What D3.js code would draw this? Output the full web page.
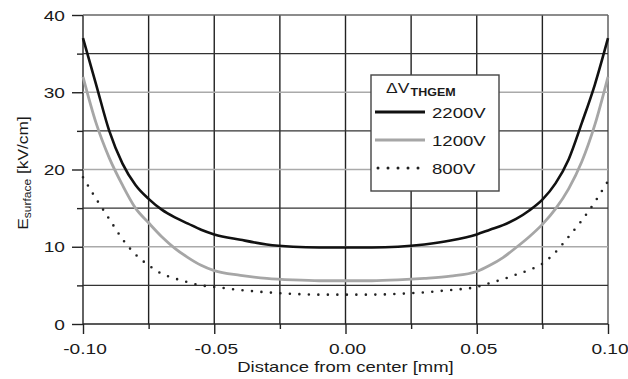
<!DOCTYPE html>
<html>
<head>
<meta charset="utf-8">
<script src="https://cdn.jsdelivr.net/npm/d3@7"></script>
<style>
  body { margin: 0; background: #fff; }
  text { font-family: "Liberation Sans", Arial, sans-serif; fill: #1a1a1a; }
</style>
</head>
<body>
<div class="chart"></div>
<script>
// data
const distance = [-0.100,-0.095,-0.090,-0.085,-0.080,-0.075,-0.070,-0.065,-0.060,-0.055,-0.050,
	-0.040,-0.030,-0.020,-0.010,0.000,0.010,0.020,0.030,0.040,
	0.050,0.055,0.060,0.065,0.070,0.075,0.080,0.085,0.090,0.095,0.100];
const e2200 = [37,31,25,20.8,18,16.2,14.8,13.8,13.0,12.2,11.6,
	10.9,10.3,10.0,9.9,9.9,9.9,10.0,10.3,10.8,
	11.6,12.2,12.8,13.6,14.7,16.1,18.2,21.3,26,31,37];
const e1200 = [32,26,21.5,18,15,13.1,11.3,9.8,8.6,7.6,6.9,
	6.3,5.9,5.7,5.6,5.6,5.6,5.7,5.9,6.2,
	6.8,7.6,8.6,9.9,11.3,12.9,14.9,17.5,21,25.8,32];
const e800 = [19,16.2,13.6,11.0,9.0,7.6,6.5,5.9,5.4,5.0,4.8,
	4.4,4.1,3.9,3.8,3.8,3.8,3.9,4.1,4.4,
	4.8,5.3,5.8,6.4,7.0,7.8,9.3,11.3,13.4,15.8,18.5];
const seriesNames = ["2200V","1200V","800V"];

const xMajor = [-0.10,-0.05,0,0.05,0.10];
const xMinor = [-0.075,-0.025,0.025,0.075];
const xTickLabels = ["-0.10","-0.05","0.00","0.05","0.10"];
const yMajor = [0,10,20,30,40];
const yMinor = [5,15,25,35];

const outWidth = 628, outHeight = 379;
const svg = d3.select('.chart').append('svg')
	.attr("width", outWidth)
	.attr("height", outHeight);

const x = d3.scaleLinear().domain([-0.1, 0.1]).range([83, 608]);
const y = d3.scaleLinear().domain([0, 40]).range([324, 15]);
const stretch = 1.32;

// grid
const grid = svg.append("g");
grid.selectAll("line.v")
	.data(xMajor.concat(xMinor))
	.enter().append("line")
	.attr("x1", d=>x(d)).attr("x2", d=>x(d))
	.attr("y1", y(40)).attr("y2", y(0))
	.attr("stroke", d=>d===0.10 ? "#555" : "#222")
	.attr("stroke-width", 1.4);
grid.selectAll("line.h")
	.data(yMajor.concat(yMinor))
	.enter().append("line")
	.attr("x1", x(-0.1)).attr("x2", x(0.1))
	.attr("y1", d=>y(d)).attr("y2", d=>y(d))
	.attr("stroke", d=>{
		if (d===0) return "#222";
		if (d===40) return "#666";
		return d%10===0 ? "#aaa" : "#333";
	})
	.attr("stroke-width", 1.4);

// axes
const yAxis = svg.append("g")
	.attr("transform", `translate(${x(-0.1)},0)`)
	.call(d3.axisLeft(y).tickValues(yMajor).tickSize(11).tickFormat(d3.format("d")));
svg.append("g")
	.attr("transform", `translate(${x(-0.1)},0)`)
	.call(d3.axisLeft(y).tickValues(yMinor).tickSize(6).tickFormat(""));
const xAxis = svg.append("g")
	.attr("transform", `translate(0,${y(0)})`)
	.call(d3.axisBottom(x).tickValues(xMajor).tickSize(10).tickFormat((d,i)=>xTickLabels[i]));
svg.append("g")
	.attr("transform", `translate(0,${y(0)})`)
	.call(d3.axisBottom(x).tickValues(xMinor).tickSize(5).tickFormat(""));

svg.selectAll(".domain").remove();
svg.selectAll(".tick line").attr("stroke", "#222").attr("stroke-width", 1.4);
yAxis.selectAll("text")
	.attr("x", null).attr("dy", "0.36em")
	.attr("transform", `translate(-18,0) scale(${stretch},1)`)
	.attr("font-size", 14.5).attr("fill", "#1a1a1a");
xAxis.selectAll("text")
	.attr("y", null).attr("dy", null)
	.attr("transform", `translate(1.5,30) scale(${stretch},1)`)
	.attr("font-size", 14.5).attr("fill", "#1a1a1a");

// axis titles
svg.append("text")
	.attr("transform", `translate(${x(0)},372) scale(${stretch},1)`)
	.attr("text-anchor", "middle")
	.attr("font-size", 14)
	.text("Distance from center [mm]");

const yTitle = svg.append("text")
	.attr("transform", `translate(28,173) rotate(-90) scale(1.2,1)`)
	.attr("text-anchor", "middle")
	.attr("font-size", 14.5);
yTitle.append("tspan").text("E");
yTitle.append("tspan").attr("font-size", 10).attr("dy", 3).text("surface");
yTitle.append("tspan").attr("dy", -3).text(" [kV/cm]");

// curves
const line = d3.line()
	.x((d,i)=>x(distance[i]))
	.y(d=>y(d))
	.curve(d3.curveMonotoneX);

const styles = [
	{color:"#111", width:2.6, dash:null},
	{color:"#a6a6a6", width:2.8, dash:null},
	{color:"#222", width:2.6, dash:"0 9.5"}
];
const values = [e2200, e1200, e800];

svg.selectAll("path.curve")
	.data(values)
	.enter().append("path")
	.attr("class", "curve")
	.attr("d", d=>line(d))
	.attr("fill", "none")
	.attr("stroke", (d,i)=>styles[i].color)
	.attr("stroke-width", (d,i)=>styles[i].width)
	.attr("stroke-dasharray", (d,i)=>styles[i].dash)
	.attr("stroke-linecap", (d,i)=>styles[i].dash ? "round" : "butt");

// legend
const lg = svg.append("g");
lg.append("rect")
	.attr("x", 371).attr("y", 75)
	.attr("width", 128).attr("height", 116)
	.attr("fill", "#fff")
	.attr("stroke", "#444")
	.attr("stroke-width", 1.4);
const lt = lg.append("text")
	.attr("transform", `translate(386,93) scale(1.25,1)`)
	.attr("font-size", 14);
lt.append("tspan").text("ΔV");
lt.append("tspan").attr("font-size", 10).attr("font-weight", "bold").attr("dy", 3).attr("dx", 1).text("THGEM");

const rowY = [112, 140, 168];
lg.selectAll("line.key")
	.data(seriesNames)
	.enter().append("line")
	.attr("x1", (d,i)=>styles[i].dash ? 378 : 375)
	.attr("x2", (d,i)=>styles[i].dash ? 420 : 425)
	.attr("y1", (d,i)=>rowY[i]).attr("y2", (d,i)=>rowY[i])
	.attr("stroke", (d,i)=>styles[i].color)
	.attr("stroke-width", (d,i)=>styles[i].dash ? 3 : 3.2)
	.attr("stroke-dasharray", (d,i)=>styles[i].dash ? "0 10" : null)
	.attr("stroke-linecap", (d,i)=>styles[i].dash ? "round" : "butt");
lg.selectAll("text.key")
	.data(seriesNames)
	.enter().append("text")
	.attr("transform", (d,i)=>`translate(432,${rowY[i]+6}) scale(1.2,1)`)
	.attr("font-size", 15.5)
	.text(d=>d);
</script>
</body>
</html>
